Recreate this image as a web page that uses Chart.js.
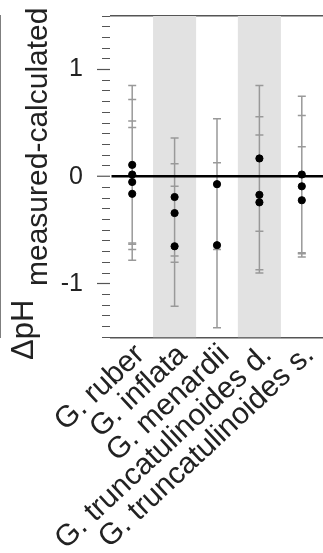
<!DOCTYPE html>
<html>
<head>
<meta charset="utf-8">
<script src="https://cdn.jsdelivr.net/npm/chart.js@4/dist/chart.umd.min.js"></script>
<style>
  html, body { margin: 0; padding: 0; background: #fff; }
  #wrap { width: 323px; height: 553px; }
</style>
</head>
<body>
<div id="wrap"><canvas id="chart"></canvas></div>
<script>
const species = ['G. ruber', 'G. inflata', 'G. menardii', 'G. truncatulinoides d.', 'G. truncatulinoides s.'];
// measured - calculated pH, one list per species
const dpH = [
  [0.11, 0.02, -0.05, -0.16],
  [-0.19, -0.34, -0.65],
  [-0.07, -0.64],
  [0.17, -0.17, -0.24],
  [0.02, -0.09, -0.22]
];
// uncertainty (+/-) for each value above
const dpHErr = [
  [0.74, 0.70, 0.57, 0.62],
  [0.55, 0.46, 0.56],
  [0.61, 0.77],
  [0.68, 0.73, 0.63],
  [0.73, 0.66, 0.50]
];
const shaded = [false, true, false, true, false];
const yMin = -1.5, yMax = 1.5;
const yLabels = [-1, 0, 1];

const FONT = 'Liberation Sans';

const points = species.flatMap((s, i) => dpH[i].map(v => ({ x: s, y: v })));
const errBars = species.flatMap((s, i) => dpH[i].flatMap((v, j) => [
  { x: s, y: v - dpHErr[i][j] },
  { x: s, y: v + dpHErr[i][j] },
  { x: s, y: null }
]));
const bands = shaded.map(b => b ? [yMin, yMax] : null);

const isMajor = v => yLabels.some(l => Math.abs(l - v) < 1e-6);

// y axis title with subscript
const titlePlugin = {
  id: 'yTitle',
  afterDraw(chart) {
    const ctx = chart.ctx;
    ctx.save();
    ctx.translate(33, 360);
    ctx.rotate(-Math.PI / 2);
    ctx.fillStyle = '#222';
    ctx.textBaseline = 'alphabetic';
    ctx.font = '31px "' + FONT + '"';
    ctx.fillText('ΔpH', 0, 0);
    ctx.font = '30px "' + FONT + '"';
    ctx.fillText('measured-calculated', 74, 14);
    ctx.restore();
  }
};

new Chart(document.getElementById('chart'), {
  type: 'bar',
  data: {
    labels: species,
    datasets: [
      {
        type: 'bar',
        data: bands,
        backgroundColor: '#e2e2e2',
        borderWidth: 0,
        barPercentage: 1,
        categoryPercentage: 1,
        order: 3
      },
      {
        type: 'line',
        data: errBars,
        borderColor: '#999',
        borderWidth: 1.5,
        spanGaps: false,
        pointStyle: 'line',
        pointRadius: 4,
        pointBorderColor: '#999',
        pointBorderWidth: 1.5,
        order: 2
      },
      {
        type: 'line',
        data: points,
        showLine: false,
        pointRadius: 3.6,
        pointBackgroundColor: '#000',
        pointBorderColor: '#000',
        pointBorderWidth: 1,
        order: 1
      }
    ]
  },
  options: {
    animation: false,
    responsive: true,
    maintainAspectRatio: false,
    layout: { autoPadding: false, padding: { top: 16, right: -3, left: 0, bottom: -4 } },
    plugins: { legend: { display: false }, tooltip: { enabled: false } },
    scales: {
      x: {
        offset: true,
        grid: { display: false, drawTicks: false },
        border: { color: '#555', width: 1.5 },
        ticks: {
          autoSkip: false,
          minRotation: 43,
          maxRotation: 43,
          padding: 0,
          labelOffset: 8,
          color: '#222',
          font: { family: FONT, size: 30 }
        },
        afterFit(s) { s.paddingRight = 0; s.paddingLeft = 0; }
      },
      xTop: {
        position: 'top',
        grid: { display: false, drawTicks: false },
        ticks: { display: false },
        border: { color: '#555', width: 1.5 }
      },
      y: {
        min: yMin,
        max: yMax,
        afterFit(s) { s.width = 111; s.paddingTop = 0; s.paddingBottom = 0; },
        border: { color: '#555', width: 1.5 },
        grid: {
          z: 1,
          tickLength: 14,
          color: c => (c.tick && Math.abs(c.tick.value) < 1e-6) ? '#000' : 'rgba(0,0,0,0)',
          lineWidth: c => (c.tick && Math.abs(c.tick.value) < 1e-6) ? 2.5 : 1,
          tickColor: '#555',
          tickWidth: 1.2,
          tickBorderDash: c => (c.tick && isMajor(c.tick.value)) ? [] : [0, 5, 100]
        },
        ticks: {
          stepSize: 0.1,
          autoSkip: false,
          padding: 14,
          color: '#222',
          font: { family: FONT, size: 25 },
          callback: v => isMajor(v) ? String(Math.round(v)) : ''
        }
      }
    }
  },
  plugins: [titlePlugin]
});
</script>
</body>
</html>
